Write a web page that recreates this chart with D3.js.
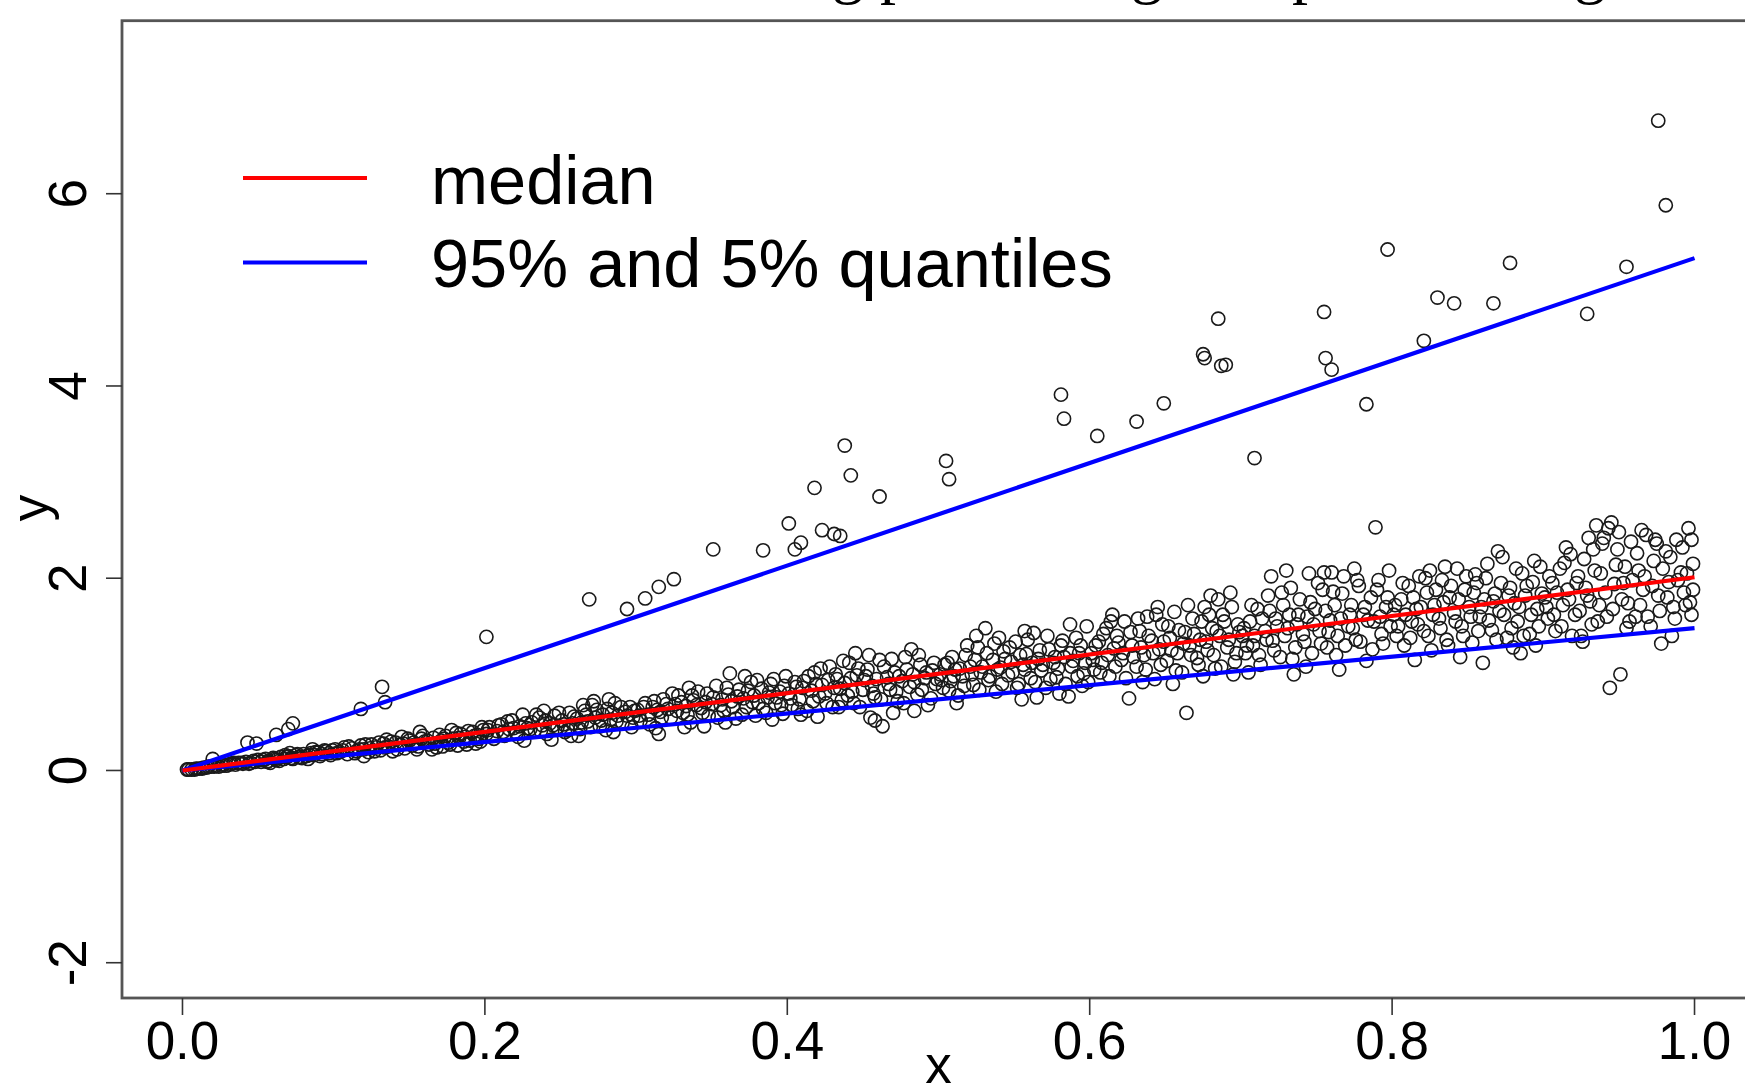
<!DOCTYPE html>
<html>
<head>
<meta charset="utf-8">
<script src="https://cdn.jsdelivr.net/npm/d3@7"></script>
<style>
body{margin:0;background:#fff;}
svg{display:block;}
text{font-family:"Liberation Sans",Arial,sans-serif;fill:#000;}
</style>
</head>
<body>
<script>
var w=1745,h=1088;

// axis ticks
var xTicks=[0,0.2,0.4,0.6,0.8,1.0];
var yTicks=[-2,0,2,4,6];

// fitted quantile lines (x from 0 to 1)
var lineX=[0,1];
var medianY=[0,2.01];
var q95Y=[0,5.33];
var q05Y=[0,1.48];

// legend
var legendLabels=['median','95% and 5% quantiles'];
var legendColors=['#ff0000','#0000ff'];

// points well above the main cloud
var highPoints=[
[0.976,6.76],[0.981,5.88],[0.797,5.42],[0.878,5.28],[0.955,5.24],[0.830,4.92],[0.841,4.86],
[0.867,4.86],[0.755,4.77],[0.685,4.70],[0.929,4.75],[0.821,4.47],[0.675,4.33],[0.676,4.29],
[0.687,4.21],[0.690,4.22],[0.756,4.29],[0.760,4.17],[0.581,3.91],[0.583,3.66],[0.649,3.82],
[0.631,3.63],[0.605,3.48],[0.783,3.81],[0.709,3.25],[0.438,3.38],[0.442,3.07],[0.505,3.22],
[0.507,3.03],[0.418,2.94],[0.461,2.85],[0.401,2.57],[0.423,2.50],[0.435,2.44],[0.431,2.46],
[0.409,2.37],[0.405,2.30],[0.384,2.29],[0.351,2.30],[0.325,1.99],[0.315,1.91],[0.306,1.79],
[0.294,1.68],[0.269,1.78],[0.201,1.39],[0.132,0.87],[0.134,0.71],[0.118,0.64],[0.073,0.49],
[0.070,0.43],[0.062,0.37],[0.043,0.29],[0.049,0.28],[0.020,0.12]
];

// main cloud of points, by tenths of x
var cloud0=[[0.003,0.01],[0.006,0.01],[0.009,0.02],[0.011,0.02],[0.014,0.03],[0.016,0.03],[0.019,0.04],[0.022,0.05],[0.024,0.04],[0.027,0.06],[0.029,0.05],[0.032,0.07],[0.035,0.06],[0.037,0.08],[0.040,0.07],[0.042,0.09],[0.045,0.08],[0.047,0.10],[0.050,0.11],[0.052,0.09],[0.055,0.12],[0.057,0.10],[0.060,0.13],[0.062,0.11],[0.065,0.14],[0.067,0.12],[0.070,0.15],[0.072,0.13],[0.075,0.16],[0.077,0.14],[0.080,0.17],[0.082,0.15],[0.085,0.18],[0.087,0.16],[0.090,0.19],[0.092,0.17],[0.095,0.20],[0.097,0.18],[0.099,0.21],[0.058,0.08],[0.083,0.12],[0.068,0.16],
[0.004,0.01],[0.008,0.01],[0.013,0.02],[0.017,0.04],[0.021,0.04],[0.026,0.05],[0.031,0.06],[0.034,0.08],[0.039,0.08],[0.044,0.07],[0.048,0.09],[0.053,0.11],[0.056,0.09],[0.061,0.12],[0.064,0.10],[0.069,0.14],[0.073,0.12],[0.076,0.17],[0.079,0.13],[0.084,0.16],[0.088,0.19],[0.091,0.15],[0.094,0.21],[0.098,0.16],[0.071,0.18],[0.086,0.22]];
var cloud1=[[0.101,0.22],[0.104,0.19],[0.107,0.24],[0.109,0.17],[0.112,0.23],[0.115,0.20],[0.118,0.26],[0.120,0.22],[0.123,0.19],[0.125,0.27],[0.128,0.24],[0.131,0.21],[0.133,0.28],[0.136,0.25],[0.139,0.20],[0.141,0.29],[0.144,0.27],[0.147,0.23],[0.150,0.31],[0.152,0.26],[0.155,0.22],[0.158,0.33],[0.160,0.30],[0.163,0.27],[0.166,0.34],[0.168,0.24],[0.171,0.31],[0.174,0.36],[0.176,0.29],[0.179,0.33],[0.182,0.26],[0.184,0.38],[0.187,0.35],[0.190,0.31],[0.192,0.40],[0.195,0.37],[0.197,0.30],[0.199,0.42],[0.145,0.35],[0.178,0.42],[0.165,0.22],[0.188,0.27],[0.120,0.15],[0.135,0.32],
[0.102,0.18],[0.106,0.21],[0.110,0.25],[0.114,0.18],[0.117,0.22],[0.121,0.27],[0.124,0.23],[0.127,0.20],[0.130,0.29],[0.134,0.24],[0.138,0.30],[0.142,0.22],[0.146,0.28],[0.149,0.33],[0.153,0.29],[0.156,0.25],[0.159,0.36],[0.162,0.31],[0.167,0.28],[0.170,0.37],[0.173,0.33],[0.177,0.27],[0.181,0.39],[0.183,0.34],[0.186,0.30],[0.189,0.41],[0.193,0.36],[0.196,0.33],[0.198,0.45],[0.157,0.40],[0.172,0.25],[0.194,0.28]];
var cloud2=[[0.201,0.38],[0.203,0.45],[0.206,0.33],[0.208,0.41],[0.211,0.48],[0.213,0.36],[0.216,0.43],[0.218,0.52],[0.221,0.39],[0.223,0.46],[0.226,0.31],[0.228,0.44],[0.231,0.50],[0.233,0.42],[0.236,0.55],[0.238,0.47],[0.241,0.38],[0.243,0.49],[0.246,0.57],[0.248,0.45],[0.251,0.52],[0.253,0.40],[0.256,0.60],[0.258,0.49],[0.261,0.54],[0.263,0.43],[0.266,0.62],[0.268,0.51],[0.271,0.68],[0.273,0.55],[0.276,0.46],[0.278,0.58],[0.281,0.64],[0.283,0.53],[0.286,0.70],[0.288,0.57],[0.291,0.49],[0.293,0.61],[0.296,0.66],[0.298,0.55],[0.225,0.58],[0.262,0.36],[0.285,0.40],[0.244,0.32],[0.272,0.72],
[0.202,0.42],[0.205,0.36],[0.209,0.47],[0.212,0.40],[0.215,0.51],[0.219,0.44],[0.222,0.35],[0.227,0.49],[0.230,0.43],[0.234,0.58],[0.237,0.41],[0.240,0.52],[0.245,0.47],[0.249,0.60],[0.252,0.48],[0.255,0.42],[0.259,0.56],[0.264,0.50],[0.267,0.58],[0.270,0.45],[0.274,0.63],[0.277,0.52],[0.280,0.42],[0.284,0.60],[0.287,0.51],[0.290,0.66],[0.294,0.57],[0.297,0.45],[0.299,0.62],[0.239,0.62],[0.257,0.36],[0.282,0.74],[0.265,0.68]];
var cloud3=[[0.301,0.63],[0.303,0.52],[0.306,0.70],[0.308,0.58],[0.311,0.66],[0.313,0.44],[0.316,0.61],[0.318,0.74],[0.321,0.64],[0.323,0.55],[0.326,0.69],[0.328,0.78],[0.331,0.60],[0.333,0.67],[0.336,0.50],[0.338,0.73],[0.341,0.82],[0.343,0.65],[0.346,0.71],[0.348,0.57],[0.351,0.76],[0.353,0.88],[0.356,0.68],[0.358,0.62],[0.361,0.79],[0.363,0.72],[0.366,0.54],[0.368,0.84],[0.371,0.75],[0.373,0.66],[0.376,0.92],[0.378,0.78],[0.381,0.70],[0.383,0.85],[0.386,0.60],[0.388,0.81],[0.391,0.95],[0.393,0.76],[0.396,0.68],[0.398,0.88],[0.315,0.38],[0.345,0.46],[0.362,1.01],[0.390,0.53],[0.335,0.86],[0.372,0.98],
[0.302,0.57],[0.305,0.66],[0.309,0.48],[0.312,0.72],[0.314,0.63],[0.317,0.55],[0.320,0.69],[0.324,0.80],[0.327,0.62],[0.330,0.71],[0.334,0.58],[0.337,0.78],[0.340,0.68],[0.344,0.60],[0.347,0.80],[0.350,0.69],[0.354,0.55],[0.357,0.74],[0.360,0.86],[0.364,0.66],[0.367,0.77],[0.370,0.58],[0.374,0.83],[0.377,0.71],[0.380,0.94],[0.384,0.64],[0.387,0.76],[0.389,0.90],[0.392,0.70],[0.395,0.82],[0.397,0.59],[0.399,0.98],[0.332,0.45],[0.359,0.50],[0.379,0.57]];
var cloud4=[[0.401,0.80],[0.403,0.68],[0.406,0.87],[0.408,0.74],[0.411,0.93],[0.413,0.62],[0.416,0.83],[0.418,1.02],[0.421,0.77],[0.423,0.89],[0.426,0.70],[0.428,1.08],[0.431,0.86],[0.433,0.95],[0.436,0.73],[0.438,0.91],[0.441,1.12],[0.443,0.82],[0.446,0.99],[0.448,0.66],[0.451,0.94],[0.453,1.05],[0.456,0.88],[0.458,0.76],[0.461,1.15],[0.463,0.46],[0.466,0.97],[0.468,0.84],[0.471,1.02],[0.473,0.72],[0.476,0.93],[0.478,1.18],[0.481,0.87],[0.483,1.00],[0.486,0.79],[0.488,1.10],[0.491,0.96],[0.493,0.68],[0.496,1.04],[0.498,0.90],[0.420,0.56],[0.455,0.55],[0.445,1.22],[0.470,0.60],[0.482,1.26],[0.409,0.58],[0.434,0.66],
[0.402,0.75],[0.405,0.92],[0.407,0.64],[0.410,0.86],[0.414,0.98],[0.417,0.72],[0.419,0.90],[0.422,1.06],[0.425,0.80],[0.427,0.94],[0.430,0.66],[0.432,1.00],[0.435,0.85],[0.437,1.14],[0.440,0.78],[0.442,0.96],[0.444,0.70],[0.447,1.06],[0.450,0.84],[0.452,0.98],[0.454,1.20],[0.457,0.80],[0.459,0.95],[0.462,0.74],[0.464,1.08],[0.467,0.90],[0.469,1.16],[0.472,0.82],[0.474,0.98],[0.477,0.70],[0.479,1.05],[0.484,0.92],[0.487,1.20],[0.489,0.84],[0.492,1.02],[0.495,0.75],[0.497,1.12],[0.499,0.95],[0.458,0.52],[0.484,0.62]];
var cloud5=[[0.501,1.00],[0.503,0.86],[0.506,1.12],[0.508,0.93],[0.511,1.05],[0.513,0.78],[0.516,0.98],[0.518,1.20],[0.521,1.08],[0.523,0.89],[0.526,1.28],[0.528,1.02],[0.531,1.48],[0.533,0.94],[0.536,1.15],[0.538,0.82],[0.541,1.07],[0.543,1.24],[0.546,0.99],[0.548,1.13],[0.551,1.34],[0.553,0.90],[0.556,1.10],[0.558,1.21],[0.561,0.96],[0.563,1.43],[0.566,1.16],[0.568,1.04],[0.571,0.86],[0.573,1.26],[0.576,1.12],[0.578,0.97],[0.581,1.30],[0.583,1.18],[0.586,0.77],[0.588,1.08],[0.591,1.38],[0.593,1.22],[0.596,1.01],[0.598,1.50],[0.512,0.70],[0.540,1.38],[0.565,0.76],[0.587,1.52],[0.525,1.40],[0.595,0.88],[0.557,1.45],
[0.502,0.94],[0.504,1.10],[0.507,0.83],[0.509,1.18],[0.510,0.98],[0.514,1.06],[0.517,0.88],[0.519,1.30],[0.522,1.00],[0.524,1.15],[0.527,0.84],[0.529,1.08],[0.532,1.22],[0.534,0.98],[0.537,1.32],[0.539,1.05],[0.542,0.90],[0.544,1.16],[0.547,1.28],[0.549,1.02],[0.552,0.86],[0.554,1.20],[0.557,1.05],[0.559,1.36],[0.562,1.12],[0.564,0.92],[0.567,1.25],[0.569,1.10],[0.572,1.40],[0.574,0.95],[0.577,1.18],[0.579,1.06],[0.582,1.35],[0.584,0.90],[0.587,1.22],[0.589,1.14],[0.592,0.98],[0.594,1.30],[0.597,1.12],[0.599,0.92],[0.555,0.74],[0.580,0.80]];
var cloud6=[[0.601,1.22],[0.603,1.05],[0.606,1.34],[0.608,1.12],[0.611,1.48],[0.613,0.98],[0.616,1.27],[0.618,1.40],[0.621,1.15],[0.623,1.55],[0.626,0.75],[0.628,1.30],[0.631,1.08],[0.633,1.45],[0.636,1.20],[0.638,1.60],[0.641,1.35],[0.643,0.95],[0.646,1.26],[0.648,1.52],[0.651,1.14],[0.653,1.38],[0.656,1.65],[0.658,1.22],[0.661,1.02],[0.663,1.44],[0.666,1.30],[0.668,1.58],[0.671,1.17],[0.673,1.36],[0.676,1.70],[0.678,1.25],[0.681,1.48],[0.683,1.06],[0.686,1.40],[0.688,1.62],[0.691,1.28],[0.693,1.85],[0.696,1.13],[0.698,1.52],[0.664,0.60],[0.615,1.62],[0.645,1.70],[0.675,0.98],[0.695,1.00],[0.655,0.90],[0.685,1.78],
[0.602,1.15],[0.604,1.30],[0.607,1.02],[0.609,1.42],[0.612,1.20],[0.614,1.55],[0.617,1.08],[0.619,1.33],[0.622,1.22],[0.624,0.96],[0.627,1.44],[0.629,1.18],[0.632,1.58],[0.634,1.28],[0.637,1.05],[0.639,1.40],[0.642,1.22],[0.644,1.62],[0.647,1.10],[0.649,1.34],[0.652,1.50],[0.654,1.25],[0.657,1.04],[0.659,1.46],[0.662,1.32],[0.665,1.72],[0.667,1.20],[0.669,1.42],[0.672,1.10],[0.674,1.55],[0.677,1.34],[0.679,1.62],[0.682,1.20],[0.684,1.45],[0.687,1.08],[0.689,1.55],[0.692,1.36],[0.694,1.70],[0.697,1.22],[0.699,1.44],[0.635,0.92],[0.680,1.82]];
var cloud7=[[0.701,1.40],[0.703,1.22],[0.706,1.55],[0.708,1.30],[0.711,1.68],[0.713,1.10],[0.716,1.45],[0.718,1.82],[0.721,1.35],[0.723,1.58],[0.726,1.18],[0.728,1.72],[0.731,1.48],[0.733,1.90],[0.736,1.28],[0.738,1.62],[0.741,1.42],[0.743,1.08],[0.746,1.75],[0.748,1.52],[0.751,1.95],[0.753,1.32],[0.756,1.66],[0.758,1.44],[0.761,1.86],[0.763,1.20],[0.766,1.58],[0.768,2.02],[0.771,1.50],[0.773,1.72],[0.776,1.36],[0.778,1.92],[0.781,1.62],[0.783,1.14],[0.786,1.80],[0.788,1.55],[0.789,2.53],[0.791,1.98],[0.793,1.42],[0.796,1.70],[0.798,2.08],[0.720,2.02],[0.745,2.05],[0.775,2.10],[0.735,1.00],[0.765,1.05],[0.705,1.02],[0.755,2.06],
[0.702,1.48],[0.704,1.30],[0.707,1.72],[0.709,1.40],[0.712,1.20],[0.714,1.58],[0.717,1.36],[0.719,1.66],[0.722,1.25],[0.724,1.50],[0.727,1.85],[0.729,1.40],[0.732,1.62],[0.734,1.16],[0.737,1.52],[0.739,1.78],[0.742,1.34],[0.744,1.60],[0.747,1.22],[0.749,1.68],[0.752,1.45],[0.754,1.88],[0.757,1.28],[0.759,1.56],[0.762,1.72],[0.764,1.40],[0.767,1.84],[0.769,1.30],[0.772,1.62],[0.774,1.48],[0.777,1.98],[0.779,1.34],[0.782,1.70],[0.784,1.56],[0.787,1.26],[0.790,1.88],[0.792,1.60],[0.794,1.32],[0.797,1.80],[0.799,1.50],[0.730,2.08],[0.760,2.06]];
var cloud8=[[0.801,1.62],[0.803,1.40],[0.806,1.78],[0.808,1.30],[0.811,1.92],[0.813,1.55],[0.816,1.68],[0.818,2.02],[0.821,1.45],[0.823,1.85],[0.826,1.25],[0.828,1.72],[0.831,1.58],[0.833,1.98],[0.836,1.36],[0.838,1.80],[0.841,1.64],[0.843,2.10],[0.846,1.50],[0.848,1.88],[0.851,1.70],[0.853,1.33],[0.856,1.95],[0.858,1.60],[0.861,1.78],[0.863,2.15],[0.866,1.46],[0.868,1.84],[0.871,1.66],[0.873,2.22],[0.876,1.38],[0.878,1.90],[0.881,1.74],[0.883,1.55],[0.886,2.05],[0.888,1.82],[0.891,1.42],[0.893,1.96],[0.896,1.68],[0.898,2.12],[0.815,1.15],[0.845,1.18],[0.870,2.28],[0.885,1.22],[0.825,2.08],[0.855,2.04],[0.895,1.30],[0.860,1.12],
[0.802,1.72],[0.804,1.50],[0.807,1.95],[0.809,1.62],[0.812,1.38],[0.814,1.80],[0.817,1.52],[0.819,1.70],[0.822,2.00],[0.824,1.40],[0.827,1.62],[0.829,1.88],[0.832,1.48],[0.834,1.75],[0.837,1.30],[0.839,1.92],[0.842,1.55],[0.844,1.78],[0.847,1.40],[0.849,2.02],[0.852,1.60],[0.854,1.85],[0.857,1.45],[0.859,1.70],[0.862,2.00],[0.864,1.56],[0.867,1.76],[0.869,1.36],[0.872,1.95],[0.874,1.62],[0.877,1.82],[0.879,1.48],[0.882,2.10],[0.884,1.70],[0.887,1.40],[0.889,1.92],[0.892,1.62],[0.894,2.18],[0.897,1.50],[0.899,1.84],[0.835,2.12],[0.880,1.28]];
var cloud9=[[0.901,1.80],[0.903,1.58],[0.906,1.95],[0.908,1.45],[0.911,2.10],[0.913,1.72],[0.916,1.88],[0.918,2.25],[0.921,1.62],[0.923,2.02],[0.926,1.34],[0.928,1.90],[0.931,1.76],[0.933,2.30],[0.936,1.55],[0.938,2.05],[0.941,1.85],[0.943,2.52],[0.944,0.86],[0.946,1.68],[0.948,2.14],[0.951,1.00],[0.953,1.95],[0.956,1.74],[0.958,2.38],[0.961,1.60],[0.963,2.08],[0.966,1.88],[0.968,2.45],[0.971,1.50],[0.973,2.18],[0.976,1.82],[0.978,1.32],[0.981,2.28],[0.983,1.96],[0.986,1.70],[0.988,2.40],[0.991,2.06],[0.993,1.85],[0.996,2.52],[0.998,1.62],[0.999,2.15],[0.915,2.32],[0.935,2.55],[0.945,2.58],[0.955,1.48],[0.965,2.50],[0.975,2.36],[0.985,1.40],[0.997,1.75],[0.925,1.40],[0.940,2.42],
[0.902,1.70],[0.904,2.02],[0.907,1.62],[0.909,1.85],[0.912,1.50],[0.914,2.16],[0.917,1.78],[0.919,1.40],[0.922,1.95],[0.924,1.66],[0.927,2.20],[0.929,1.82],[0.932,1.52],[0.934,2.08],[0.937,1.72],[0.939,2.36],[0.942,1.60],[0.947,1.94],[0.949,2.30],[0.952,1.78],[0.954,2.12],[0.957,1.55],[0.959,1.98],[0.962,2.26],[0.964,1.72],[0.967,2.02],[0.969,1.60],[0.972,1.92],[0.974,2.40],[0.977,1.66],[0.979,2.10],[0.982,1.80],[0.984,2.22],[0.987,1.58],[0.989,1.98],[0.992,2.32],[0.994,1.72],[0.995,2.05],[0.998,2.40],[0.999,1.88],[0.950,2.48],[0.930,2.42]];

var points=[].concat(cloud0,cloud1,cloud2,cloud3,cloud4,cloud5,cloud6,cloud7,cloud8,cloud9,highPoints);

var svg=d3.select('body').append('svg').attr('width',w).attr('height',h);

// plot region (R style 4% padding, right side runs off the page)
var pLeft=122,pRight=1755,pTop=20.7,pBottom=998;
var x=d3.scaleLinear().domain([-0.04,1.04]).range([pLeft,pRight]);
var y=d3.scaleLinear().domain([-2.367,7.80]).range([pBottom,pTop]);

// clipped caption bits above the figure
var capBits=[['g p',832],['g',1131],['p',1292],['g',1574],['[',1681],['a',1730]];
svg.selectAll('text.cap').data(capBits).enter().append('text').attr('class','cap')
  .attr('x',function(d){return d[1];}).attr('y',-9)
  .style('font-family','"Liberation Serif","DejaVu Serif",serif')
  .style('font-size','64px')
  .text(function(d){return d[0];});

var plot=svg.append('g');
plot.append('clipPath').attr('id','clip').append('rect')
  .attr('x',pLeft).attr('y',pTop).attr('width',pRight-pLeft).attr('height',pBottom-pTop);

// points
plot.append('g').attr('clip-path','url(#clip)').selectAll('circle').data(points).enter().append('circle')
  .attr('cx',function(d){return x(d[0]);})
  .attr('cy',function(d){return y(d[1]);})
  .attr('r',6.6)
  .attr('fill','none')
  .attr('stroke','#1a1a1a')
  .attr('stroke-width',1.6);

// quantile lines
var line=d3.line().x(function(d){return x(d[0]);}).y(function(d){return y(d[1]);});
var fits=[[q95Y,'#0000ff'],[q05Y,'#0000ff'],[medianY,'#ff0000']];
fits.forEach(function(f){
  plot.append('path').datum(lineX.map(function(v,i){return [v,f[0][i]];}))
    .attr('d',line).attr('fill','none').attr('stroke',f[1]).attr('stroke-width',4.2);
});

// box
svg.append('rect').attr('x',pLeft).attr('y',pTop).attr('width',pRight-pLeft+20).attr('height',pBottom-pTop)
  .attr('fill','none').attr('stroke','#555').attr('stroke-width',2.8);

// x axis
var xAxis=svg.append('g');
xAxis.selectAll('line').data(xTicks).enter().append('line')
  .attr('x1',function(d){return x(d);}).attr('x2',function(d){return x(d);})
  .attr('y1',pBottom).attr('y2',pBottom+17)
  .attr('stroke','#333').attr('stroke-width',1.6);
xAxis.selectAll('text').data(xTicks).enter().append('text')
  .attr('x',function(d){return x(d);}).attr('y',1059)
  .attr('text-anchor','middle').style('font-size','53px')
  .text(function(d){return d3.format('.1f')(d);});
svg.append('text').attr('x',(pLeft+pRight)/2).attr('y',1083)
  .attr('text-anchor','middle').style('font-size','53px').text('x');

// y axis
var yAxis=svg.append('g');
yAxis.selectAll('line').data(yTicks).enter().append('line')
  .attr('x1',pLeft-16).attr('x2',pLeft)
  .attr('y1',function(d){return y(d);}).attr('y2',function(d){return y(d);})
  .attr('stroke','#333').attr('stroke-width',1.6);
yAxis.selectAll('text').data(yTicks).enter().append('text')
  .attr('transform',function(d){return 'translate(86,'+y(d)+') rotate(-90)';})
  .attr('text-anchor','middle').style('font-size','53px')
  .text(function(d){return d;});
svg.append('text').attr('transform','translate(48,'+y(2.73)+') rotate(-90)')
  .attr('text-anchor','middle').style('font-size','53px').text('y');

// legend
var leg=svg.append('g');
leg.selectAll('line').data(legendLabels).enter().append('line')
  .attr('x1',243).attr('x2',367)
  .attr('y1',function(d,i){return 178+i*84.5;}).attr('y2',function(d,i){return 178+i*84.5;})
  .attr('stroke',function(d,i){return legendColors[i];}).attr('stroke-width',4);
leg.selectAll('text').data(legendLabels).enter().append('text')
  .attr('x',431).attr('y',function(d,i){return 204+i*83;})
  .style('font-size','68.5px')
  .text(function(d){return d;});
</script>
</body>
</html>
